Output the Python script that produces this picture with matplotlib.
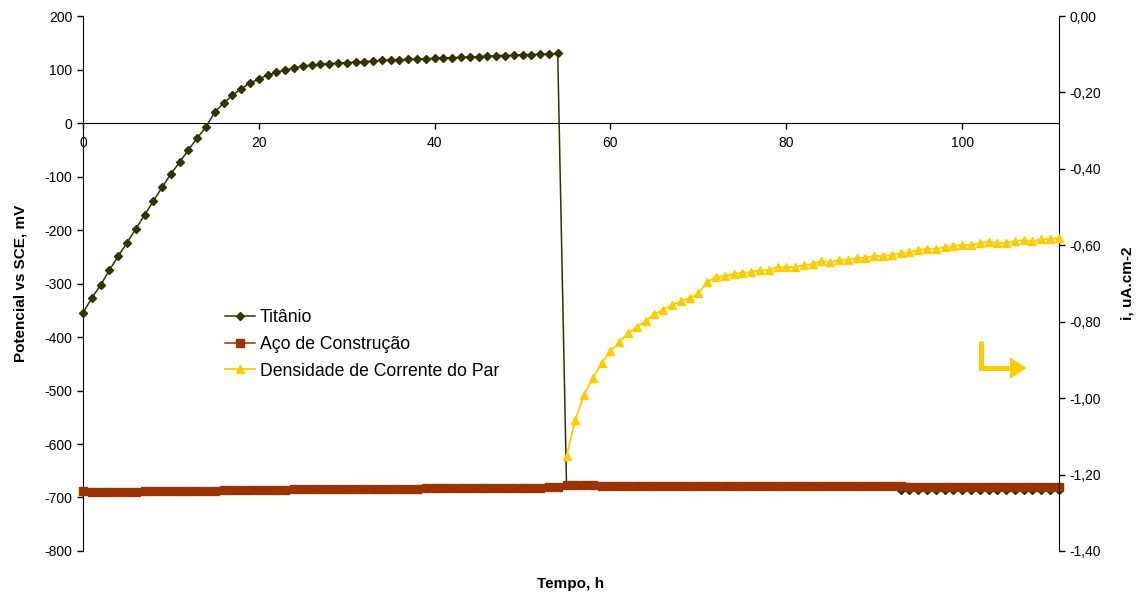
import numpy as np
import matplotlib
matplotlib.use("Agg")
import matplotlib.pyplot as plt
from matplotlib.ticker import FuncFormatter

plt.rcParams['font.family'] = ['Liberation Sans', 'DejaVu Sans']
plt.rcParams['axes.unicode_minus'] = False

# tempo (h), uma leitura por hora
tempo = np.arange(0, 112)

# potencial do titânio (mV vs SCE)
titanio = [
    -355, -327, -303, -275, -249, -224, -198, -172, -146, -120,
    -95, -73, -50, -28, -7, 21, 37, 52, 64, 75,
    82, 90, 95, 99, 103, 107, 108, 110, 111, 112,
    113, 114, 115, 116, 117, 118, 118, 119, 120, 120,
    121, 122, 122, 123, 124, 124, 125, 126, 126, 127,
    128, 128, 129, 129, 130,
    -677, -677, -677, -677, -678, -678, -678, -678, -678, -678,
    -678, -678, -678, -678, -678, -678, -678, -678, -678, -678,
    -678, -678, -678, -678, -678, -678, -678, -678, -678, -678,
    -678, -678, -679, -679, -679, -679, -679, -679,
    -686, -686, -686, -686, -686, -686, -686, -686, -686, -686,
    -686, -686, -686, -686, -686, -686, -686, -686, -686,
]

# potencial do aço de construção (mV vs SCE)
aco = [
    -688, -689, -689, -689, -689, -689, -689, -688, -688, -687,
    -687, -687, -687, -687, -687, -687, -686, -686, -686, -686,
    -686, -686, -686, -686, -685, -685, -685, -685, -685, -685,
    -685, -684, -684, -684, -684, -684, -684, -684, -684, -683,
    -683, -683, -683, -683, -683, -683, -682, -682, -682, -682,
    -682, -682, -682, -681, -681,
    -677, -677, -677, -677, -678, -678, -678, -678, -678, -678,
    -678, -678, -678, -678, -678, -678, -678, -678, -678, -678,
    -678, -678, -678, -678, -678, -678, -678, -678, -678, -678,
    -678, -678, -679, -679, -679, -679, -679, -679, -679, -680,
    -680, -680, -680, -680, -680, -680, -680, -680, -680, -680,
    -680, -680, -680, -680, -680, -680, -680,
]

# densidade de corrente do par (uA.cm-2), a partir de 55 h
tempo_par = np.arange(55, 112)
densidade = [
    -1.151, -1.057, -0.992, -0.947, -0.908, -0.877, -0.853, -0.830, -0.814, -0.798,
    -0.780, -0.769, -0.756, -0.746, -0.738, -0.725, -0.696, -0.683, -0.680, -0.675,
    -0.672, -0.670, -0.665, -0.665, -0.657, -0.657, -0.657, -0.652, -0.649, -0.641,
    -0.644, -0.639, -0.639, -0.633, -0.633, -0.628, -0.628, -0.625, -0.620, -0.618,
    -0.612, -0.610, -0.610, -0.604, -0.602, -0.599, -0.599, -0.594, -0.591, -0.594,
    -0.594, -0.589, -0.586, -0.589, -0.584, -0.584, -0.581,
]

cor_ti = '#333300'
cor_aco = '#993300'
cor_par = '#FFCC00'

fig = plt.figure(figsize=(11.4, 5.94), dpi=100)
ax = fig.add_axes([0.0728, 0.0724, 0.856, 0.9006])

l1, = ax.plot(tempo, titanio, color=cor_ti, marker='D', markersize=4.5, lw=1.1,
              label='Titânio', clip_on=False, zorder=3)
l2, = ax.plot(tempo, aco, color=cor_aco, marker='s', markersize=5.8, lw=1.1,
              label='Aço de Construção', clip_on=False, zorder=4)

ax.set_xlim(0, 111)
ax.set_ylim(-800, 200)
ax.set_yticks(np.arange(-800, 201, 100))
ax.set_xticks(np.arange(0, 101, 20))
ax.spines['bottom'].set_position(('data', 0))
ax.spines['top'].set_visible(False)
ax.spines['right'].set_visible(False)
ax.tick_params(axis='both', labelsize=10, direction='out', length=4, width=1)
ax.tick_params(axis='x', pad=5)
ax.set_ylabel('Potencial vs SCE, mV', fontsize=11, fontweight='bold', labelpad=12)
ax.set_xlabel('Tempo, h', fontsize=11, fontweight='bold')
ax.xaxis.set_label_coords(0.5, -0.048)

ax2 = ax.twinx()
l3, = ax2.plot(tempo_par, densidade, color=cor_par, marker='^', markersize=6.3, lw=1.3,
               label='Densidade de Corrente do Par', clip_on=False, zorder=3)
ax2.set_ylim(-1.4, 0)
ax2.set_yticks(np.arange(-1.4, 0.01, 0.2))
ax2.yaxis.set_major_formatter(FuncFormatter(lambda v, p: f'{v:.2f}'.replace('.', ',').replace('-0,00', '0,00')))
for s in ['top', 'bottom', 'left']:
    ax2.spines[s].set_visible(False)
ax2.tick_params(axis='y', labelsize=10, direction='out', length=4, width=1)
ax2.set_ylabel('i, uA.cm-2', fontsize=11, fontweight='bold', labelpad=14)

# seta indicando o eixo da direita
ax2.plot([0.920, 0.920, 0.953], [0.393, 0.342, 0.342], transform=ax2.transAxes,
         color=cor_par, lw=3.6, solid_joinstyle='miter', solid_capstyle='butt', clip_on=False)
ax2.fill([0.950, 0.967, 0.950], [0.322, 0.342, 0.362], transform=ax2.transAxes,
         color=cor_par, lw=0, clip_on=False)

ax2.legend(handles=[l1, l2, l3], loc='upper left', bbox_to_anchor=(0.146, 0.452),
           frameon=False, fontsize=12.7, handlelength=1.7, handletextpad=0.25,
           labelspacing=0.55, borderpad=0, borderaxespad=0)

fig.savefig('out.png', dpi=100)
